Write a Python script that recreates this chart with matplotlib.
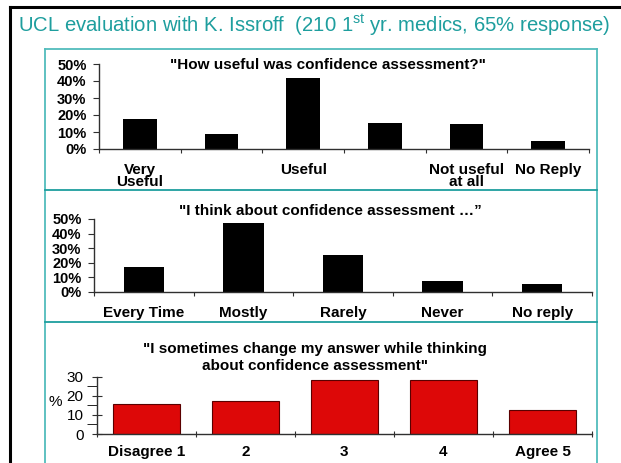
import matplotlib
matplotlib.use("Agg")
import matplotlib.pyplot as plt
from matplotlib.lines import Line2D

W, H = 621, 463

# survey answers, percent of respondents
useful_labels = ["Very\nUseful", "", "Useful", "", "Not useful\nat all", "No Reply"]
useful_pct = [17.5, 9, 42, 15.5, 14.5, 4.5]

think_labels = ["Every Time", "Mostly", "Rarely", "Never", "No reply"]
think_pct = [17, 47, 25, 7.5, 5]

change_labels = ["Disagree 1", "2", "3", "4", "Agree 5"]
change_pct = [15.5, 17.5, 28.5, 28.5, 12.5]

plt.rcParams['font.family'] = ['Liberation Sans', 'DejaVu Sans']
plt.rcParams['mathtext.fontset'] = 'custom'
plt.rcParams['mathtext.rm'] = 'Liberation Sans'

TEAL = '#1e9e9e'
fig = plt.figure(figsize=(W / 100, H / 100), dpi=100)


def px_axes(l, t, r, b):
    return fig.add_axes([l / W, 1 - b / H, (r - l) / W, (b - t) / H])


def fy(y):
    return 1 - y / H


def bar_panel(ax, labels, vals, width, color, ec, yticks, pct=True, tickdir='out'):
    n = len(vals)
    centers = [i + 0.5 for i in range(n)]
    ax.bar(centers, vals, width=width, color=color, edgecolor=ec,
           linewidth=0.8 if ec != 'none' else 0)
    ax.set_xlim(0, n)
    ax.set_ylim(yticks[0], yticks[-1])
    for s in ['top', 'right']:
        ax.spines[s].set_visible(False)
    for s in ['left', 'bottom']:
        ax.spines[s].set_color('#303030')
        ax.spines[s].set_linewidth(1)
    ax.set_xticks(range(n + 1), [''] * (n + 1))
    ax.set_xticks(centers, labels, minor=True)
    ax.tick_params(axis='x', which='major', length=3, direction=tickdir, color='#303030')
    ax.tick_params(axis='x', which='minor', length=0, pad=10)
    for lbl in ax.get_xticklabels(minor=True):
        lbl.set_fontweight('bold')
        lbl.set_fontsize(11)
        lbl.set_linespacing(0.8)
    if pct:
        ax.set_yticks(yticks, [f"{v}%" for v in yticks])
        for lbl in ax.get_yticklabels():
            lbl.set_fontweight('bold')
    else:
        ax.set_yticks(yticks, [str(v) for v in yticks])
    ax.tick_params(axis='y', labelsize=10.5, length=4, pad=5, direction=tickdir, color='#303030')
    ax.patch.set_alpha(0)


ax1 = px_axes(99, 64, 589, 149)
bar_panel(ax1, useful_labels, useful_pct, 0.41, 'black', 'none', [0, 10, 20, 30, 40, 50])

ax2 = px_axes(94, 219, 592, 291.7)
bar_panel(ax2, think_labels, think_pct, 0.405, 'black', 'none', [0, 10, 20, 30, 40, 50])

ax3 = px_axes(96.7, 376.7, 592, 434)
bar_panel(ax3, change_labels, change_pct, 0.68, '#dd0808', '#5a0000', [0, 10, 20, 30],
          pct=False, tickdir='inout')
ax3.set_yticks([5, 15, 25], minor=True)
ax3.tick_params(axis='y', which='both', length=7, pad=6, labelsize=11)
ax3.tick_params(axis='x', which='major', length=4)
ax3.tick_params(axis='x', which='minor', pad=8)
fig.text(55 / W, fy(402), '%', fontsize=11, ha='center', va='center')

# question titles
fig.text(328 / W, fy(69), '"How useful was confidence assessment?"',
         fontsize=11, fontweight='bold', ha='center', va='baseline')
fig.text(330 / W, fy(215), '"I think about confidence assessment \u2026\u201d',
         fontsize=11, fontweight='bold', ha='center', va='baseline')
fig.text(315 / W, fy(353), '"I sometimes change my answer while thinking',
         fontsize=11, fontweight='bold', ha='center', va='baseline')
fig.text(315 / W, fy(370), 'about confidence assessment"',
         fontsize=11, fontweight='bold', ha='center', va='baseline')

# slide title, shrunk to fit the available width
title = fig.text(18 / W, fy(32), r'UCL evaluation with K. Issroff  (210 1$^{\mathrm{st}}$ yr. medics, 65% response)',
                 fontsize=16, color=TEAL, ha='left', va='baseline')
fig.canvas.draw()
tw = title.get_window_extent().width
title.set_fontsize(16 * 594 / tw)

# frames
fig.add_artist(Line2D([10 / W, 10 / W], [fy(7), 0], color='black', lw=2.2))
fig.add_artist(Line2D([10 / W, 1], [fy(7), fy(7)], color='black', lw=2.2))
box = '#52bcbc'
fig.add_artist(Line2D([45 / W, 45 / W], [fy(49), 0], color=box, lw=1.3))
fig.add_artist(Line2D([597 / W, 597 / W], [fy(49), 0], color=box, lw=1.3))
fig.add_artist(Line2D([45 / W, 597 / W], [fy(49), fy(49)], color=box, lw=1.3))
for y in [190, 322]:
    fig.add_artist(Line2D([45 / W, 597 / W], [fy(y), fy(y)], color=TEAL, lw=1.3))

fig.savefig('out.png', dpi=100)
